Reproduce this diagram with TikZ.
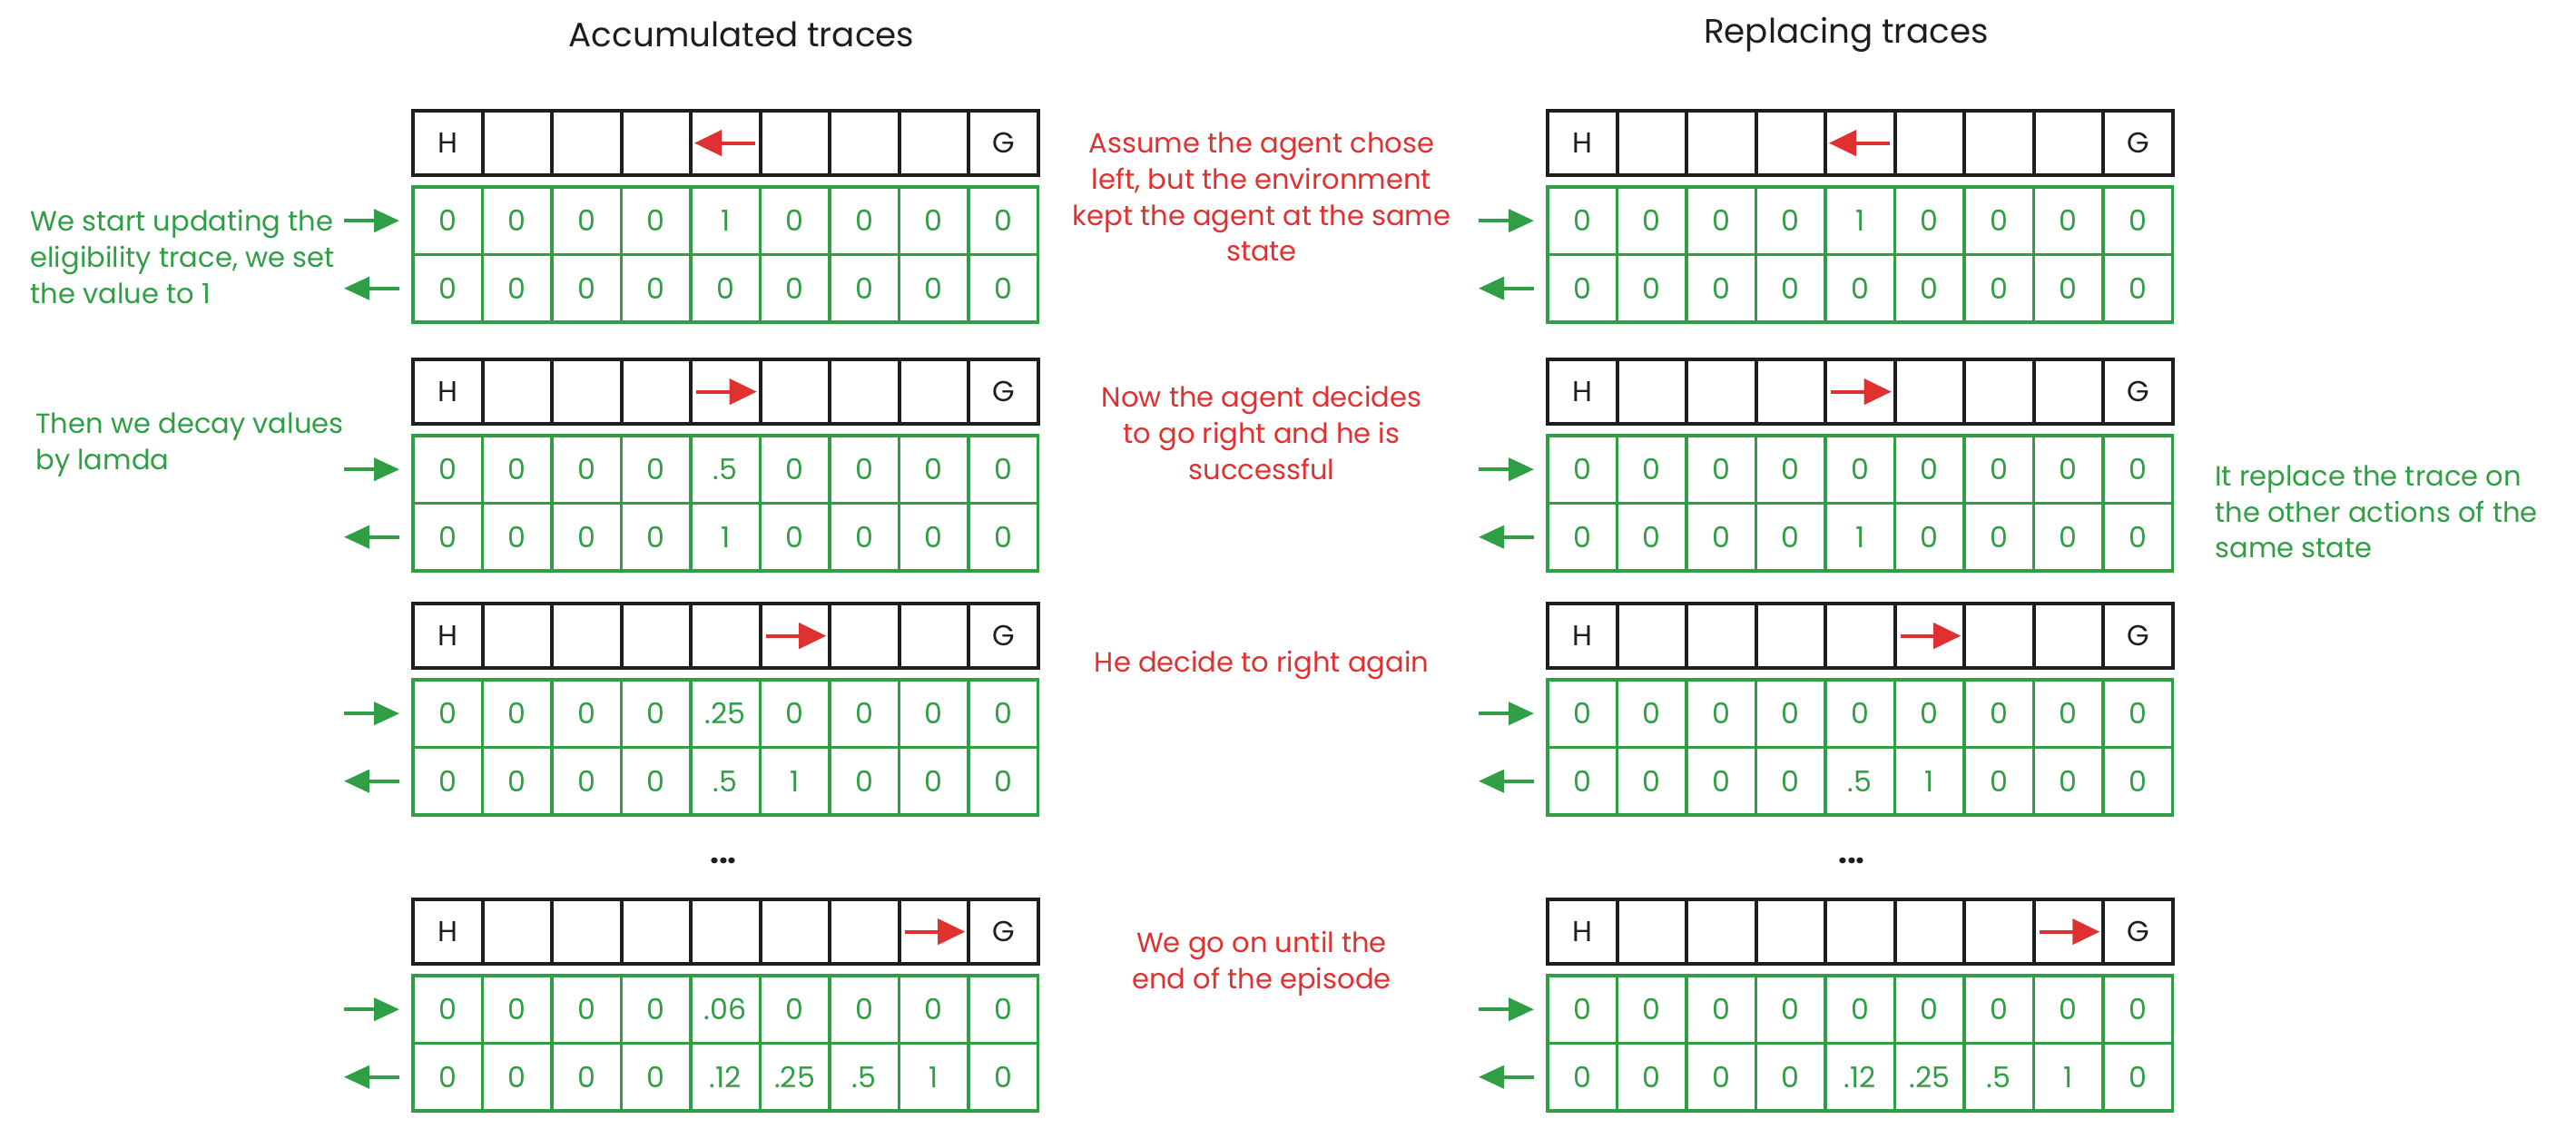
\documentclass[tikz,border=0pt]{standalone}
\usepackage{fontspec}
\setmainfont{Poppins}
\usetikzlibrary{arrows.meta}
\definecolor{inkblack}{HTML}{1E1E1E}
\definecolor{inkgreen}{HTML}{2F9E44}
\definecolor{inkred}{HTML}{E03131}
\newcommand{\notefont}{\fontsize{8.7}{11.3}\selectfont}
\newcommand{\cellfont}{\fontsize{9}{10}\selectfont}
\tikzset{
    statecell/.style={draw=inkblack, line width=1.2pt, minimum width=0.765cm, minimum height=0.71cm, inner sep=0pt, anchor=north west, text=inkblack, font=\cellfont},
    tracecell/.style={draw=inkgreen, line width=1.1pt, minimum width=0.765cm, minimum height=0.745cm, inner sep=0pt, anchor=north west, text=inkgreen, font=\cellfont},
    movearrow/.style={draw=inkred, line width=1.1pt, -{Triangle[length=0.3cm,width=0.28cm]}, shorten <=0.08cm, shorten >=0.06cm},
    sidearrow/.style={draw=inkgreen, line width=1.1pt, -{Triangle[length=0.28cm,width=0.25cm]}},
    note/.style={align=center, font=\notefont},
    heading/.style={font=\fontsize{10.6}{13}\selectfont, text=inkblack},
}
% one block: state row and the two trace rows
% #1 prefix, #2 shift, #3 first row, #4 second row, #5 cell of the move, #6 and #7 its ends
\newcommand{\traceblock}[7]{%
    \begin{scope}[shift={#2}]
        \foreach \lbl [count=\i] in {H,{},{},{},{},{},{},{},G}
            \node [statecell] (#1s\i) at ({(\i-1)*0.765},0) {\lbl};
        \foreach \val [count=\i] in {#3}
            \node [tracecell] (#1a\i) at ({(\i-1)*0.765},0.84) {\val};
        \foreach \val [count=\i] in {#4}
            \node [tracecell] (#1b\i) at ({(\i-1)*0.765},1.585) {\val};
    \end{scope}
    \draw [movearrow] (#1s#5.#6) -- (#1s#5.#7);
    \draw [sidearrow] ([xshift=-0.74cm]#1a1.west) -- ([xshift=-0.13cm]#1a1.west);
    \draw [sidearrow] ([xshift=-0.13cm]#1b1.west) -- ([xshift=-0.74cm]#1b1.west);
}
\begin{document}
\begin{tikzpicture}[y=-1cm]
        \useasboundingbox (0,0) rectangle (28.38,12.43);
        \node [heading] (acctitle) at (8.17,0.38) {Accumulated traces};
        \node [heading] (reptitle) at (20.34,0.38) {Replacing traces};
        % accumulated traces
        \traceblock{A1}{(4.53,1.20)}{0,0,0,0,1,0,0,0,0}{0,0,0,0,0,0,0,0,0}{5}{east}{west}
        \traceblock{A2}{(4.53,3.94)}{0,0,0,0,.5,0,0,0,0}{0,0,0,0,1,0,0,0,0}{5}{west}{east}
        \traceblock{A3}{(4.53,6.63)}{0,0,0,0,.25,0,0,0,0}{0,0,0,0,.5,1,0,0,0}{6}{west}{east}
        \traceblock{A4}{(4.53,9.89)}{0,0,0,0,.06,0,0,0,0}{0,0,0,0,.12,.25,.5,1,0}{8}{west}{east}
        \node [font=\bfseries, text=inkblack] (dotsA) at (7.97,9.48) {...};
        % replacing traces
        \traceblock{R1}{(17.03,1.20)}{0,0,0,0,1,0,0,0,0}{0,0,0,0,0,0,0,0,0}{5}{east}{west}
        \traceblock{R2}{(17.03,3.94)}{0,0,0,0,0,0,0,0,0}{0,0,0,0,1,0,0,0,0}{5}{west}{east}
        \traceblock{R3}{(17.03,6.63)}{0,0,0,0,0,0,0,0,0}{0,0,0,0,.5,1,0,0,0}{6}{west}{east}
        \traceblock{R4}{(17.03,9.89)}{0,0,0,0,0,0,0,0,0}{0,0,0,0,.12,.25,.5,1,0}{8}{west}{east}
        \node [font=\bfseries, text=inkblack] (dotsR) at (20.40,9.48) {...};
        % notes
        \node [note, text=inkred] (assume) at (13.90,2.17) {Assume the agent chose\\left, but the environment\\kept the agent at the same\\state};
        \node [note, text=inkred] (goright) at (13.90,4.77) {Now the agent decides\\to go right and he is\\successful};
        \node [note, text=inkred] (again) at (13.90,7.33) {He decide to right again};
        \node [note, text=inkred] (goon) at (13.90,10.62) {We go on until the\\end of the episode};
        \node [note, align=left, anchor=west, text=inkgreen] (setone) at (0.21,2.83) {We start updating the\\eligibility trace, we set\\the value to 1};
        \node [note, align=left, anchor=west, text=inkgreen] (decay) at (0.27,4.90) {Then we decay values\\by lamda};
        \node [note, align=left, anchor=west, text=inkgreen] (replace) at (24.28,5.64) {It replace the trace on\\the other actions of the\\same state};
    \end{tikzpicture}
\end{document}
